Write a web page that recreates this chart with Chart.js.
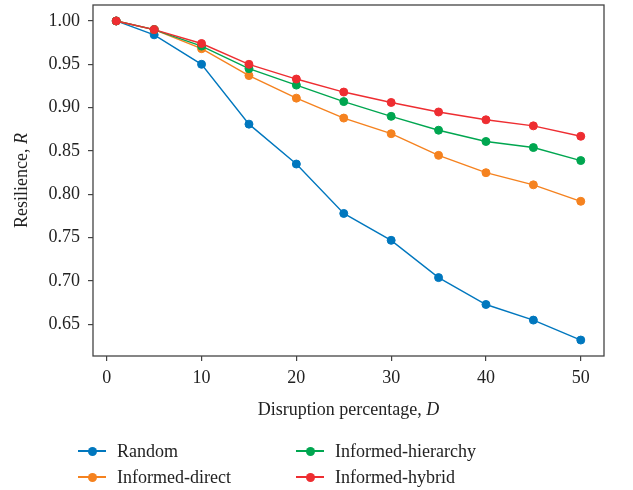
<!DOCTYPE html>
<html>
<head>
<meta charset="utf-8">
<script src="https://cdn.jsdelivr.net/npm/chart.js@4.4.0/dist/chart.umd.min.js"></script>
<style>
  body { margin: 0; background: #fff; }
  #wrap { position: relative; width: 633px; height: 490px; }
  .leg { position: absolute; font-family: "Liberation Serif", "DejaVu Serif", serif; font-size: 18px; color: #222; white-space: nowrap; }
  .leg .ln { position: absolute; left: 0; top: 50%; width: 28px; height: 2px; margin-top: -1px; }
  .leg .dot { position: absolute; left: 10px; top: 50%; width: 9px; height: 9px; margin-top: -4.5px; border-radius: 50%; }
  .leg .txt { position: absolute; left: 39px; top: 50%; transform: translateY(-50%); }
</style>
</head>
<body>
<div id="wrap">
  <canvas id="canvas" width="633" height="490"></canvas>
</div>
<script>
// data
var xValues = [1, 5, 10, 15, 20, 25, 30, 35, 40, 45, 50];
var random = [1.000, 0.984, 0.950, 0.881, 0.835, 0.778, 0.747, 0.704, 0.673, 0.655, 0.632];
var informedDirect = [1.000, 0.990, 0.968, 0.937, 0.911, 0.888, 0.870, 0.845, 0.825, 0.811, 0.792];
var informedHierarchy = [1.000, 0.990, 0.971, 0.945, 0.926, 0.907, 0.890, 0.874, 0.861, 0.854, 0.839];
var informedHybrid = [1.000, 0.990, 0.974, 0.950, 0.933, 0.918, 0.906, 0.895, 0.886, 0.879, 0.867];

var seriesLabels = ['Random', 'Informed-direct', 'Informed-hierarchy', 'Informed-hybrid'];
var seriesColors = ['#0077be', '#f5821f', '#00a650', '#ee2d31'];
var xTicks = [0, 10, 20, 30, 40, 50];
var yTicks = [0.65, 0.70, 0.75, 0.80, 0.85, 0.90, 0.95, 1.00];
// axis titles: plain part + italic symbol
var xTitle = ['Disruption percentage, ', 'D'];
var yTitle = ['Resilience, ', 'R'];

var FONT = '"Liberation Serif", "DejaVu Serif", serif';

function pts(ys){
  var out = [];
  for(var i = 0;i<xValues.length;i++){
    out.push({x: xValues[i], y: ys[i]});
  }
  return out;
}

var allSeries = [random, informedDirect, informedHierarchy, informedHybrid];
var datasets = [];
for(var i = 0;i<allSeries.length;i++){
  datasets.push({
    label: seriesLabels[i],
    data: pts(allSeries[i]),
    borderColor: seriesColors[i],
    backgroundColor: seriesColors[i],
    pointBackgroundColor: seriesColors[i],
    pointBorderColor: seriesColors[i],
    pointBorderWidth: 1,
    pointRadius: 4,
    borderWidth: 1.4,
    tension: 0,
    order: allSeries.length - i
  });
}

function drawTitle(ctx, parts, cx, cy, rot){
  ctx.save();
  ctx.translate(cx, cy);
  ctx.rotate(rot);
  ctx.fillStyle = '#222';
  ctx.textBaseline = 'middle';
  ctx.font = '18px ' + FONT;
  var w1 = ctx.measureText(parts[0]).width;
  ctx.font = 'italic 18px ' + FONT;
  var w2 = ctx.measureText(parts[1]).width;
  var x0 = -(w1 + w2) / 2;
  ctx.font = '18px ' + FONT;
  ctx.fillText(parts[0], x0, 0);
  ctx.font = 'italic 18px ' + FONT;
  ctx.fillText(parts[1], x0 + w1, 0);
  ctx.restore();
}

// full box around the plot area, plus axis titles
var frame = {
  id: 'frame',
  afterDraw: function(chart){
    var a = chart.chartArea, ctx = chart.ctx;
    ctx.save();
    ctx.strokeStyle = '#444';
    ctx.lineWidth = 1.3;
    ctx.strokeRect(a.left, a.top, a.right - a.left, a.bottom - a.top);
    ctx.restore();
    drawTitle(ctx, xTitle, (a.left + a.right) / 2, 410, 0);
    drawTitle(ctx, yTitle, 22, (a.top + a.bottom) / 2, -Math.PI / 2);
  }
};

var ctx = document.getElementById('canvas').getContext('2d');
var chart = new Chart(ctx, {
  type: 'line',
  data: { datasets: datasets },
  options: {
    responsive: false,
    animation: false,
    layout: { padding: { top: 5, right: 29, bottom: 68, left: 0 } },
    plugins: { legend: { display: false }, tooltip: { enabled: false } },
    scales: {
      x: {
        type: 'linear',
        min: -1.45,
        max: 52.45,
        afterFit: function(scale){ scale.height = 66; scale.paddingLeft = 0; scale.paddingRight = 0; },
        afterBuildTicks: function(scale){ scale.ticks = xTicks.map(function(v){ return {value: v}; }); },
        border: { display: false },
        grid: { drawOnChartArea: false, drawTicks: true, tickLength: 5, color: '#444', lineWidth: 1.2 },
        ticks: { color: '#222', padding: 6, font: { family: FONT, size: 18 }, maxRotation: 0 }
      },
      y: {
        min: 0.6136,
        max: 1.0184,
        afterFit: function(scale){ scale.width = 93; scale.paddingTop = 0; scale.paddingBottom = 0; },
        afterBuildTicks: function(scale){ scale.ticks = yTicks.map(function(v){ return {value: v}; }); },
        border: { display: false },
        grid: { drawOnChartArea: false, drawTicks: true, tickLength: 5, color: '#444', lineWidth: 1.2 },
        ticks: { color: '#222', padding: 8, font: { family: FONT, size: 18 }, callback: function(v){ return v.toFixed(2); } }
      }
    }
  },
  plugins: [frame]
});

// legend, two columns like the figure
var legendPos = [[78, 451], [78, 477], [296, 451], [296, 477]];
var wrap = document.getElementById('wrap');
for(var k = 0;k<seriesLabels.length;k++){
  var d = document.createElement('div');
  d.className = 'leg';
  d.style.left = legendPos[k][0] + 'px';
  d.style.top = (legendPos[k][1] - 12) + 'px';
  d.style.height = '24px';
  d.innerHTML = '<span class="ln" style="background:' + seriesColors[k] + '"></span>' +
    '<span class="dot" style="background:' + seriesColors[k] + '"></span>' +
    '<span class="txt">' + seriesLabels[k] + '</span>';
  wrap.appendChild(d);
}
</script>
</body>
</html>
